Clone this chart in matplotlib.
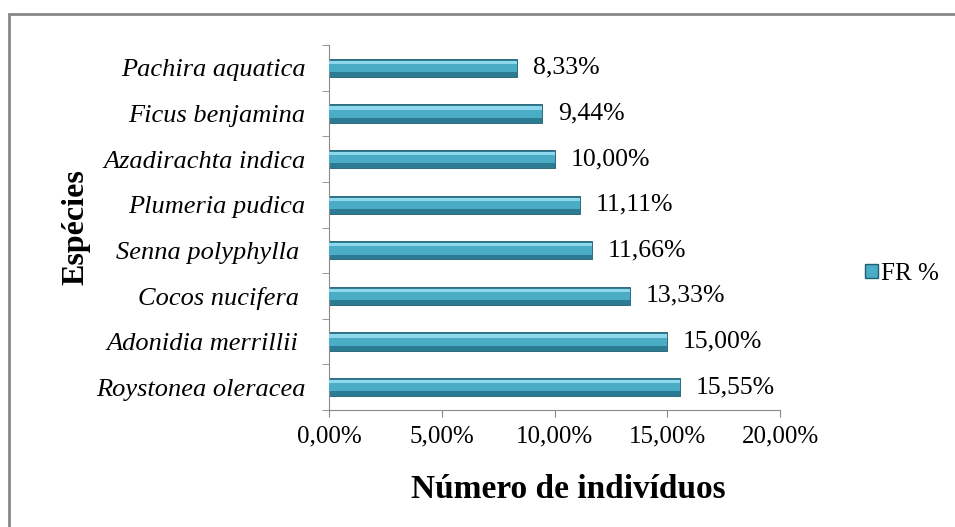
import matplotlib.pyplot as plt
import matplotlib.patches as mpatches
import numpy as np

# dados (de baixo para cima)
especies = ['Roystonea oleracea', 'Adonidia merrillii ', 'Cocos nucifera ', 'Senna polyphylla ',
            'Plumeria pudica', 'Azadirachta indica', 'Ficus benjamina', 'Pachira aquatica']
fr = [15.55, 15.00, 13.33, 11.66, 11.11, 10.00, 9.44, 8.33]
xticks = [0, 5, 10, 15, 20]

plt.rcParams['font.family'] = ['Liberation Serif', 'DejaVu Serif']

fig = plt.figure(figsize=(9.55, 5.27), dpi=100)
ax = fig.add_axes([0.3445, 0.222, 0.4723, 0.6926])

y = np.arange(len(especies))
h = 0.40
# barra "3D": base escura, faixa media, brilho em cima
ax.barh(y, fr, height=h, color='#2b7c93', edgecolor='#1f5f70', linewidth=0.6, zorder=2)
ax.barh(y + 0.03, fr, height=h * 0.62, color='#4bacc6', linewidth=0, zorder=3)
ax.barh(y + 0.12, fr, height=h * 0.18, color='#8ed7ec', linewidth=0, zorder=4)

for yi, v in zip(y, fr):
    ax.text(v + 0.7, yi, ('%.2f' % v).replace('.', ',') + '%', va='center', ha='left', fontsize=18.5)

ax.set_xlim(0, 20)
ax.set_ylim(-0.5, len(especies) - 0.5)
ax.set_xticks(xticks)
ax.set_xticklabels([('%.2f' % t).replace('.', ',') + '%' for t in xticks], fontsize=18)
ax.set_yticks(y)
ax.set_yticklabels(especies, fontsize=19, style='italic')
ax.set_yticks(np.arange(-0.5, len(especies)), minor=True)
ax.tick_params(axis='y', which='major', length=0, pad=17)
ax.tick_params(axis='y', which='minor', length=5, color='#888888', direction='out')
ax.tick_params(axis='x', length=5, color='#888888', direction='out', pad=6)

for s in ['top', 'right']:
    ax.spines[s].set_visible(False)
for s in ['left', 'bottom']:
    ax.spines[s].set_color('#888888')

ax.set_xlabel('Número de indivíduos', fontsize=24, fontweight='bold')
ax.xaxis.set_label_coords(0.53, -0.175)
ax.set_ylabel('Espécies', fontsize=23, fontweight='bold', labelpad=4)

leg_patch = mpatches.Patch(facecolor='#4bacc6', edgecolor='#1f5f70', label='FR %')
fig.legend(handles=[leg_patch], loc='center left', bbox_to_anchor=(0.906, 0.48),
           frameon=False, fontsize=18, handlelength=0.5, handleheight=0.5, handletextpad=0.15,
           borderpad=0, borderaxespad=0)

# moldura do grafico
fig.patches.append(mpatches.Rectangle((9 / 955, -0.1), 1.1, (527 - 14) / 527 + 0.1,
                                      transform=fig.transFigure, fill=False,
                                      edgecolor='#888888', linewidth=2))

plt.savefig('out.png', dpi=100)
